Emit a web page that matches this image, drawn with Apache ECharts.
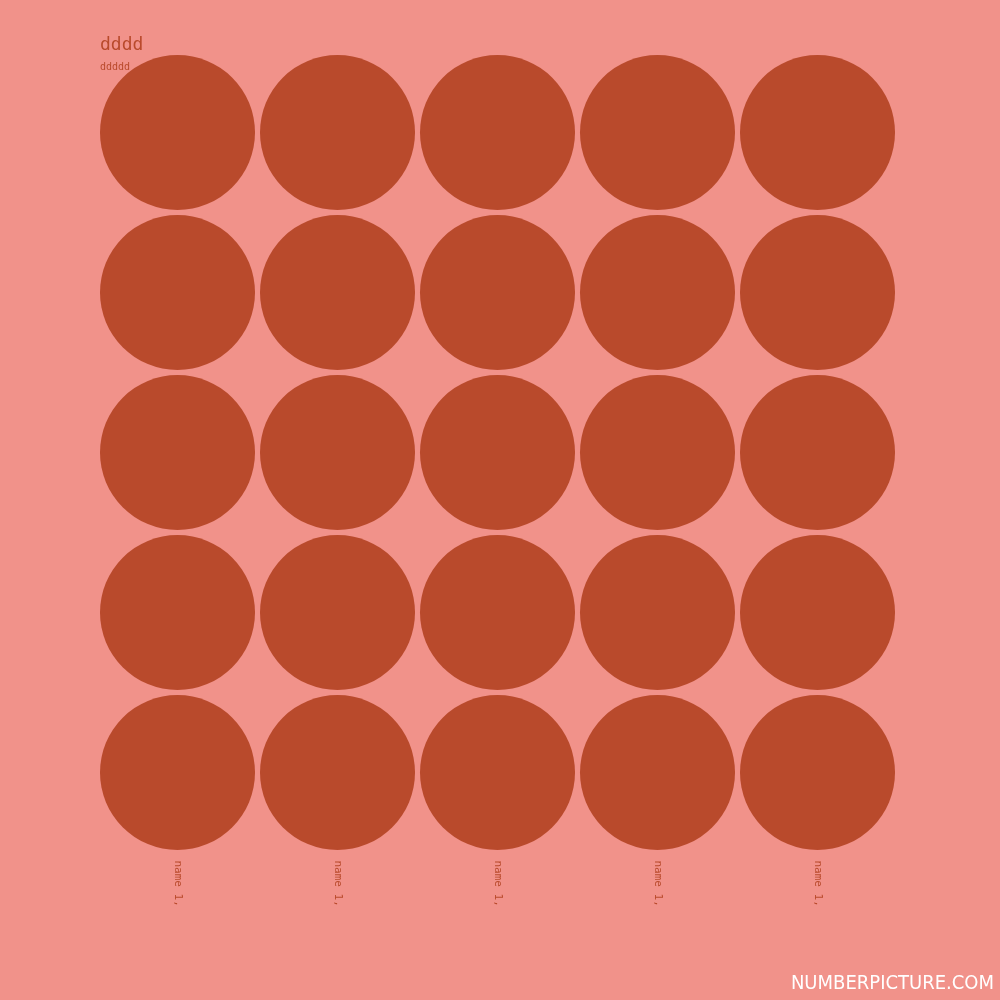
<!DOCTYPE html>
<html><head><meta charset="utf-8">
<script src="https://cdn.jsdelivr.net/npm/echarts@6/dist/echarts.min.js"></script>
<style>html,body{margin:0;padding:0;background:#F1928A}#c{width:1000px;height:1000px}</style>
</head><body><div id="c"></div>
<script>
const xCategories = ['name 1,', 'name 1,', 'name 1,', 'name 1,', 'name 1,'];
const yCategories = ['1', '2', '3', '4', '5'];
// each row: values for 5 columns (all equal)
const rowValues = [
  [1, 1, 1, 1, 1],
  [1, 1, 1, 1, 1],
  [1, 1, 1, 1, 1],
  [1, 1, 1, 1, 1],
  [1, 1, 1, 1, 1]
];
const titleText = 'dddd';
const subtitleText = 'ddddd';

const points = [];
rowValues.forEach((row, r) => row.forEach((v, c) => points.push([c, 4 - r, v])));

const chart = echarts.init(document.getElementById('c'), null, {renderer: 'canvas'});
chart.setOption({
  backgroundColor: '#F1928A',
  title: {
    text: titleText, subtext: subtitleText, left: 95, top: 31, itemGap: 8,
    textStyle: {color: '#B94A2C', fontSize: 18, fontWeight: 'normal', fontFamily: 'DejaVu Sans Mono'},
    subtextStyle: {color: '#B94A2C', fontSize: 10, fontFamily: 'DejaVu Sans Mono'}
  },
  graphic: [{
    type: 'text', right: 6, bottom: 6,
    style: {text: 'NUMBERPICTURE.COM', fill: '#ffffff', font: '20px "Liberation Sans Narrow", "DejaVu Sans Condensed", sans-serif'}
  }],
  grid: {left: 97.5, top: 52.5, width: 800, height: 800},
  xAxis: {
    type: 'category', data: xCategories.map((n, i) => i + ''),
    axisLine: {show: false}, axisTick: {show: false}, splitLine: {show: false},
    axisLabel: {rotate: -90, margin: 8, color: '#B94A2C', fontSize: 11, fontFamily: 'DejaVu Sans Mono',
      formatter: (v, i) => xCategories[i]}
  },
  yAxis: {
    type: 'category', data: yCategories,
    axisLine: {show: false}, axisTick: {show: false}, axisLabel: {show: false}, splitLine: {show: false}
  },
  series: [{
    type: 'scatter', data: points, symbol: 'circle', symbolSize: 155,
    itemStyle: {color: '#B94A2C', opacity: 1}, silent: true
  }]
});
</script></body></html>
